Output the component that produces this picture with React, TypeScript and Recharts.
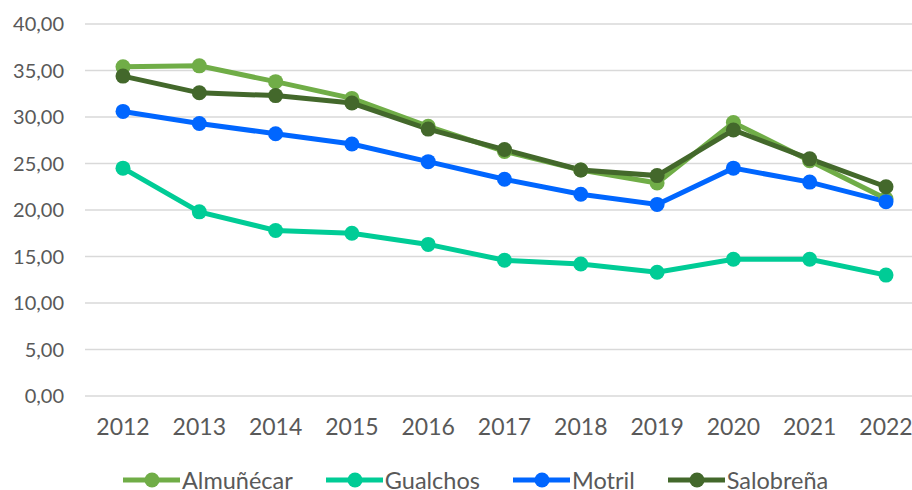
import React from "react";
import { LineChart, Line, XAxis, YAxis, CartesianGrid } from "recharts";

const years = ["2012", "2013", "2014", "2015", "2016", "2017", "2018", "2019", "2020", "2021", "2022"];
const almunecar = [35.4, 35.5, 33.8, 32.0, 29.0, 26.3, 24.3, 22.9, 29.4, 25.3, 21.2];
const gualchos = [24.5, 19.8, 17.8, 17.5, 16.3, 14.6, 14.2, 13.3, 14.7, 14.7, 13.0];
const motril = [30.6, 29.3, 28.2, 27.1, 25.2, 23.3, 21.7, 20.6, 24.5, 23.0, 20.9];
const salobrena = [34.4, 32.6, 32.3, 31.5, 28.7, 26.5, 24.3, 23.7, 28.6, 25.5, 22.5];
const yTicks = [0, 5, 10, 15, 20, 25, 30, 35, 40];

const seriesNames = ["Almuñécar", "Gualchos", "Motril", "Salobreña"];
const seriesColors = ["#70AD47", "#00CC96", "#0066FF", "#43682B"];
const seriesKeys = ["a", "g", "m", "s"];

const data = years.map((y, i) => ({
  year: y,
  a: almunecar[i],
  g: gualchos[i],
  m: motril[i],
  s: salobrena[i],
}));

const fmt = (v: number) => v.toFixed(2).replace(".", ",");
const font = "Lato, 'Open Sans', sans-serif";

export default function App() {
  return (
    <div
      style={{
        position: "fixed",
        left: 0,
        top: 0,
        width: 912,
        height: 490,
        overflow: "hidden",
        background: "#fff",
        fontFamily: font,
      }}
    >
      <LineChart
        width={930}
        height={490}
        data={data}
        margin={{ top: 24, right: 6, bottom: 54, left: 0 }}
      >
        <CartesianGrid vertical={false} stroke="#D9D9D9" strokeWidth={1.5} />
        <XAxis
          dataKey="year"
          axisLine={false}
          tickLine={false}
          tickSize={0}
          tickMargin={23}
          height={40}
          padding={{ left: 38, right: 38 }}
          tick={{ fill: "#595959", fontSize: 23, fontFamily: font }}
          interval={0}
        />
        <YAxis
          domain={[0, 40]}
          ticks={yTicks}
          width={85}
          axisLine={false}
          tickLine={false}
          tickSize={0}
          tickMargin={21}
          tickFormatter={fmt}
          tick={{ fill: "#595959", fontSize: 20, fontFamily: font }}
        />
        {seriesKeys.map((k, i) => (
          <Line
            key={k}
            dataKey={k}
            name={seriesNames[i]}
            stroke={seriesColors[i]}
            strokeWidth={5}
            dot={{ r: 7.5, fill: seriesColors[i], stroke: seriesColors[i], strokeWidth: 0 }}
            activeDot={false}
            isAnimationActive={false}
          />
        ))}
      </LineChart>
      <div
        style={{
          position: "absolute",
          left: 123,
          top: 468,
          display: "flex",
          alignItems: "center",
          height: 24,
          lineHeight: "24px",
          color: "#595959",
          fontSize: 23.5,
          whiteSpace: "nowrap",
        }}
      >
        {seriesNames.map((n, i) => (
          <div key={n} style={{ display: "flex", alignItems: "center", marginRight: 33, height: 24 }}>
            <svg width={57} height={20} style={{ marginRight: 2 }}>
              <line x1={0} y1={10} x2={57} y2={10} stroke={seriesColors[i]} strokeWidth={5} />
              <circle cx={29} cy={10} r={7.5} fill={seriesColors[i]} />
            </svg>
            <span style={{ lineHeight: "24px" }}>{n}</span>
          </div>
        ))}
      </div>
    </div>
  );
}
